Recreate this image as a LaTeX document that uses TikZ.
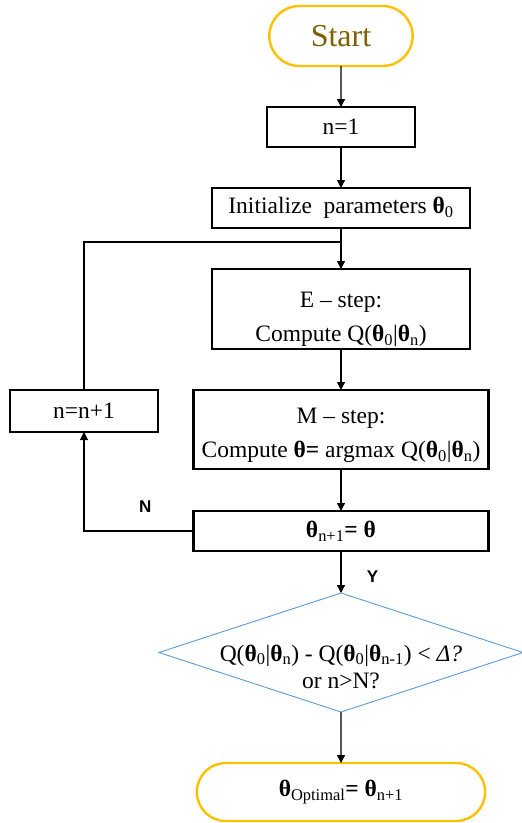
\documentclass[tikz,border=0pt]{standalone}
\usepackage{fontspec}
\setmainfont{Liberation Serif}
\newfontfamily\labfont{Liberation Sans}
\usepackage{tikz}
\usetikzlibrary{arrows.meta,positioning,shapes.geometric,shapes.misc}

\definecolor{termorange}{RGB}{255,192,0}
\definecolor{termtext}{RGB}{127,96,0}
\definecolor{condblue}{RGB}{91,155,213}

\newcommand{\thb}{\textbf{θ}}

\tikzset{
  box/.style={draw,line width=2.6pt,outer sep=0pt,minimum height=40pt,inner sep=2pt,align=center,
    font=\fontsize{23.5pt}{27pt}\selectfont},
  term/.style={draw=termorange,rounded rectangle,line width=2.4pt,outer sep=0pt,minimum height=60pt,
    font=\fontsize{23.5pt}{27pt}\selectfont},
  cond/.style={draw=condblue,diamond,line width=0.9pt,outer sep=0pt,minimum width=364pt,
    minimum height=119pt,inner sep=0pt},
  condtext/.style={align=center,font=\fontsize{23.5pt}{27pt}\selectfont},
  flow/.style={line width=1.2pt,-{Triangle[length=8pt,width=8pt]}},
  link/.style={line width=1.2pt},
  yn/.style={font=\labfont\bfseries\fontsize{17pt}{20pt}\selectfont}
}

\begin{document}
\begin{tikzpicture}
\useasboundingbox (0pt,0pt) rectangle (522pt,-823pt);

\node[term,minimum width=150pt,text=termtext,font=\fontsize{32pt}{36pt}\selectfont] (start) at (341pt,-36pt) {Start};
\node[box,minimum width=148pt] (n1) [below =41pt of start] {n=1};
\node[box,minimum width=258pt] (init) [below =41pt of n1]
{Initialize~ parameters \thb\textsubscript{0}};
\node[box,minimum width=258pt,minimum height=80pt] (estep) [below =41pt of init]
{\rule{0pt}{36pt}E – step:\\[7pt] Compute Q(\thb\textsubscript{0}|\thb\textsubscript{n})};
\node[box,minimum width=295pt,minimum height=79pt] (mstep) [below =41pt of estep]
{\rule{0pt}{27pt}M – step:\\[7pt] Compute \thb\textbf{=} argmax Q(\thb\textsubscript{0}|\thb\textsubscript{n})};
\node[box,minimum width=295pt] (upd) [below =42pt of mstep]
{\thb\textsubscript{n+1}\textbf{= θ}};
\node[cond,label={[condtext,yshift=-14pt]center:Q(\thb\textsubscript{0}|\thb\textsubscript{n}) - Q(\thb\textsubscript{0}|\thb\textsubscript{n-1}) < \textit{Δ?}\\ or n>N?}]
(check) [below =42pt of upd] {};
\node[term,minimum width=295pt,minimum height=58pt] (stop) [below =51pt of check]
{\thb\textsubscript{Optimal}\textbf{= θ}\textsubscript{n+1}};
\node[box,minimum width=148pt,minimum height=42pt] (incr) at (84pt,-411pt) {n=n+1};
\coordinate (join) at ([yshift=-14pt]init.south);

\draw[flow] (start) -- (n1);
\draw[flow] (n1) -- (init);
\draw[flow] (init) -- (estep);
\draw[link] (incr.north) |- (join);
\draw[flow] (estep) -- (mstep);
\draw[flow] (mstep) -- (upd);
\draw[flow] (upd) -- node[yn,pos=0.62,right=22pt] {Y} (check);
\draw[flow] (upd.west) -| node[yn,pos=0.22,above=15pt] {N} (incr.south);
\draw[flow] (check) -- (stop);
\end{tikzpicture}
\end{document}
